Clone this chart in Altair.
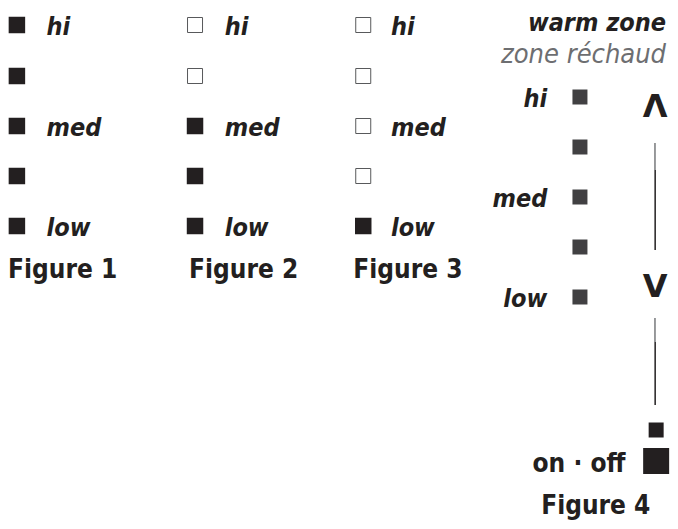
import altair as alt
import pandas as pd

# ---------------- data ----------------
row_y = [25, 76, 126, 176, 226]                 # rows of Figures 1-3
row_labels = ["hi", "", "med", "", "low"]
panel_sq_x = [17, 197, 367]                      # square column of each figure
panel_lbl_x = [47, 227, 395]
panel_lit = [[1, 1, 1, 1, 1],
             [0, 0, 1, 1, 1],
             [0, 0, 0, 0, 1]]
fig_names = ["Figure 1", "Figure 2", "Figure 3", "Figure 4"]
fig_name_x = [8, 191, 357, 602]
fig_name_y = [278, 278, 278, 514]
fig_name_align = ["left", "left", "left", "center"]

z4_sq_x = 586
z4_row_y = [97, 147, 197, 247, 297]
z4_labels = ["hi", "", "med", "", "low"]
z4_lbl_x = 553

title_lines = ["warm zone", "zone réchaud"]
title_y = [31, 63]
title_color = ["#231f20", "#6d6e71"]
title_weight = ["bold", "normal"]
title_x = 673

arrow_glyph = ["Λ", "V"]
arrow_y = [117, 297]
arrow_x = 662

line_x = 662
line_y = [143, 318]
line_y2 = [250, 405]
line_light_y2 = [170, 342]

small_sq = {"x": 663, "y": 430}
big_sq = {"x": 663, "y": 461}
onoff = {"x": 632, "y": 472, "t": "on · off"}

# ---------------- helpers ----------------
W, H = 662, 513
xs = alt.Scale(domain=[8, 677], nice=False, zero=False)
ys = alt.Scale(domain=[8, 521], nice=False, zero=False, reverse=True)
FONT = "DejaVu Sans Condensed, DejaVu Sans"
INK = "#231f20"


def X(f="x"):
    return alt.X(f + ":Q", scale=xs, axis=None)


def Y(f="y"):
    return alt.Y(f + ":Q", scale=ys, axis=None)


# ---------------- tables ----------------
sq_rows = []
lbl_rows = []
for p in range(3):
    for r in range(5):
        sq_rows.append({"x": panel_sq_x[p], "y": row_y[r], "lit": panel_lit[p][r]})
        if row_labels[r]:
            lbl_rows.append({"x": panel_lbl_x[p], "y": row_y[r] + 10, "t": row_labels[r]})
sq = pd.DataFrame(sq_rows)
lbl = pd.DataFrame(lbl_rows)

figs = pd.DataFrame({"x": fig_name_x, "y": fig_name_y, "t": fig_names, "a": fig_name_align})

z4sq = pd.DataFrame({"x": [z4_sq_x] * 5, "y": z4_row_y})
z4lbl = pd.DataFrame({"x": [z4_lbl_x] * 5, "y": [v + 10 for v in z4_row_y], "t": z4_labels})
z4lbl = z4lbl[z4lbl.t != ""]

titles = pd.DataFrame({"x": [title_x] * 2, "y": title_y, "t": title_lines,
                       "c": title_color, "w": title_weight})
arrows = pd.DataFrame({"x": [arrow_x] * 2, "y": arrow_y, "t": arrow_glyph})
lines = pd.DataFrame({"x": [line_x] * 2, "y": line_y, "y2": line_y2, "yl": line_light_y2})

# ---------------- layers ----------------
filled = alt.Chart(sq).transform_filter("datum.lit == 1").mark_square(
    size=272, color=INK, opacity=1, filled=True
).encode(x=X(), y=Y())

hollow = alt.Chart(sq).transform_filter("datum.lit == 0").mark_square(
    size=225, filled=False, stroke="#58595b", strokeWidth=1, opacity=1
).encode(x=X(), y=Y())

labels = alt.Chart(lbl).mark_text(
    font=FONT, fontSize=25, fontStyle="italic", fontWeight="bold",
    align="left", baseline="alphabetic", color=INK
).encode(x=X(), y=Y(), text="t:N")

fig_left = alt.Chart(figs[figs.a == "left"]).mark_text(
    font=FONT, fontSize=26, fontWeight="bold", align="left",
    baseline="alphabetic", color=INK
).encode(x=X(), y=Y(), text="t:N")

fig_center = alt.Chart(figs[figs.a == "center"]).mark_text(
    font=FONT, fontSize=26, fontWeight="bold", align="center",
    baseline="alphabetic", color=INK
).encode(x=X(), y=Y(), text="t:N")

z4_squares = alt.Chart(z4sq).mark_square(
    size=225, color="#414042", opacity=1, filled=True
).encode(x=X(), y=Y())

z4_labels_l = alt.Chart(z4lbl).mark_text(
    font=FONT, fontSize=25, fontStyle="italic", fontWeight="bold",
    align="right", baseline="alphabetic", color=INK
).encode(x=X(), y=Y(), text="t:N")

title_b = alt.Chart(titles[titles.w == "bold"]).mark_text(
    font=FONT, fontSize=25, fontStyle="italic", fontWeight="bold",
    align="right", baseline="alphabetic"
).encode(x=X(), y=Y(), text="t:N", color=alt.Color("c:N", scale=None))

title_n = alt.Chart(titles[titles.w == "normal"]).mark_text(
    font=FONT, fontSize=27, fontStyle="italic", fontWeight="normal",
    align="right", baseline="alphabetic"
).encode(x=X(), y=Y(), text="t:N", color=alt.Color("c:N", scale=None))

arrow_l = alt.Chart(arrows).mark_text(
    font="DejaVu Sans", fontSize=32, fontWeight="bold", align="center",
    baseline="alphabetic", color=INK
).encode(x=X(), y=Y(), text="t:N")

line_dark = alt.Chart(lines).mark_rule(color=INK, strokeWidth=1.5).encode(
    x=X(), y=Y(), y2="y2:Q"
)
line_light = alt.Chart(lines).mark_rule(color="#a7a9ac", strokeWidth=1.5).encode(
    x=X(), y=Y(), y2="yl:Q"
)

small_l = alt.Chart(pd.DataFrame([small_sq])).mark_square(
    size=225, color=INK, opacity=1, filled=True
).encode(x=X(), y=Y())

big_l = alt.Chart(pd.DataFrame([big_sq])).mark_square(
    size=676, color=INK, opacity=1, filled=True
).encode(x=X(), y=Y())

onoff_l = alt.Chart(pd.DataFrame([onoff])).mark_text(
    font=FONT, fontSize=26, fontWeight="bold", align="right",
    baseline="alphabetic", color=INK
).encode(x=X(), y=Y(), text="t:N")

chart = alt.layer(
    filled, hollow, labels, fig_left, fig_center,
    z4_squares, z4_labels_l, title_b, title_n, arrow_l,
    line_dark, line_light, small_l, big_l, onoff_l
).properties(
    width=W, height=H, padding=0, autosize=alt.AutoSizeParams(type="none")
).configure_view(stroke=None)

chart.save("out.html", embed_options={"renderer": "svg", "actions": False})
